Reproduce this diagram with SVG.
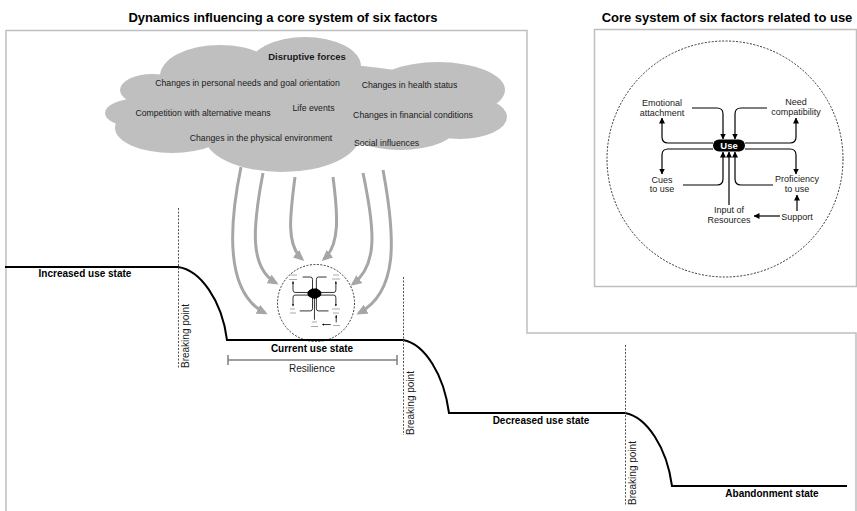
<svg xmlns="http://www.w3.org/2000/svg" xmlns:xlink="http://www.w3.org/1999/xlink" width="857" height="511" viewBox="0 0 857 511">
<style>
text{font-family:"Liberation Sans",Arial,sans-serif;fill:#1a1a1a}
.title{font-size:13px;font-weight:bold;text-anchor:middle;fill:#000}
.cl{font-size:8.7px;text-anchor:middle}
.st{font-size:10px;font-weight:bold;text-anchor:middle;fill:#000}
.bp{font-size:10px}
.lb{font-size:9px;text-anchor:middle}
.frame{fill:none;stroke:#bfbfbf;stroke-width:1.5}
.dash{fill:none;stroke:#333;stroke-width:1;stroke-dasharray:2 1.5}
.bpl{fill:none;stroke:#555;stroke-width:1;stroke-dasharray:2 1.5}
.ga{fill:none;stroke:#a6a6a6;stroke-width:3;marker-end:url(#gah)}
.cn{fill:none;stroke:#000;stroke-width:var(--sw,1.2);marker-end:url(#bah);vector-effect:non-scaling-stroke}
.cloud ellipse{fill:#bfbfbf}
.mini{stroke:#aaa;stroke-width:1}
</style>
<defs>
<marker id="gah" markerUnits="userSpaceOnUse" markerWidth="11" markerHeight="10" refX="8" refY="5" orient="auto" viewBox="0 0 11 10"><path d="M0,0 L11,5 L0,10 z" fill="#a6a6a6"/></marker>
<marker id="bah" markerUnits="userSpaceOnUse" markerWidth="6" markerHeight="6" refX="5.5" refY="3" orient="auto" viewBox="0 0 6 6"><path d="M0,0 L6,3 L0,6 z" fill="#000"/></marker>
<g id="coreLinks">
<path class="cn" d="M692,108 H717 Q723,108 723,114 V139"/>
<path class="cn" d="M713,143 H668 Q662,143 662,137 V118"/>
<path class="cn" d="M767,108 H741 Q735,108 735,114 V139"/>
<path class="cn" d="M745,143 H790 Q796,143 796,137 V118"/>
<path class="cn" d="M713,149 H668 Q662,149 662,155 V174"/>
<path class="cn" d="M683,185 H717 Q723,185 723,179 V152"/>
<path class="cn" d="M745,149 H790 Q796,149 796,155 V174"/>
<path class="cn" d="M773,185 H741 Q735,185 735,179 V152"/>
<path class="cn" d="M729,205 V152"/>
<path class="cn" d="M780,216 H754"/>
<path class="cn" d="M797,211 V195"/>
</g>
</defs>
<rect width="857" height="511" fill="#fff"/>

<g id="frames">
<path class="frame" d="M6,511 V30.5 H527 V333 H856 V511"/>
<rect class="frame" x="594.5" y="29.5" width="262" height="257"/>
</g>

<g id="titles">
<text class="title" x="283" y="22">Dynamics influencing a core system of six factors</text>
<text class="title" x="727" y="22">Core system of six factors related to use</text>
</g>

<g id="cloud" class="cloud">
<ellipse cx="300" cy="105" rx="170" ry="42"/>
<ellipse cx="140" cy="113" rx="35" ry="15"/>
<ellipse cx="152" cy="90" rx="32" ry="16"/>
<ellipse cx="220" cy="76" rx="60" ry="31"/>
<ellipse cx="305" cy="66" rx="56" ry="29"/>
<ellipse cx="438" cy="90" rx="67" ry="28"/>
<ellipse cx="460" cy="117" rx="47" ry="22"/>
<ellipse cx="400" cy="125" rx="58" ry="25"/>
<ellipse cx="282" cy="135" rx="78" ry="37"/>
<ellipse cx="172" cy="128" rx="57" ry="25"/>
<text class="cl" x="307" y="60" style="font-weight:bold;font-size:9.5px">Disruptive forces</text>
<text class="cl" x="247.5" y="86">Changes in personal needs and goal orientation</text>
<text class="cl" x="409.5" y="88">Changes in health status</text>
<text class="cl" x="203" y="116">Competition with alternative means</text>
<text class="cl" x="313.5" y="111">Life events</text>
<text class="cl" x="413" y="118">Changes in financial conditions</text>
<text class="cl" x="261" y="141">Changes in the physical environment</text>
<text class="cl" x="386.5" y="146">Social influences</text>
</g>

<g id="force-arrows">
<path class="ga" d="M241,167 C226,240 230,295 265,313"/>
<path class="ga" d="M263,173 C252,230 250,268 276,283"/>
<path class="ga" d="M295,177 C290,215 286,245 302,259"/>
<path class="ga" d="M333,177 C338,215 340,245 324,259"/>
<path class="ga" d="M363,173 C375,230 378,265 353,284"/>
<path class="ga" d="M383,170 C396,240 398,292 359,313"/>
</g>

<g id="mini-core">
<circle class="dash" cx="316" cy="303" r="38.5"/>
<use xlink:href="#coreLinks" href="#coreLinks" style="--sw:0.8" transform="translate(81.16,229.52) scale(0.32,0.44)"/>
<ellipse cx="314.4" cy="293.5" rx="7" ry="5" fill="#000"/>
<path class="mini" d="M289,275 h8 M289,279.5 h8 M333,275 h6 M332,279 h8 M290,309 h5 M290,313 h6 M332,309 h8 M333,313 h6 M312,322 h5 M311,326.5 h7 M333,325.5 h7"/>
</g>

<g id="core-system">
<circle class="dash" cx="725" cy="159" r="118"/>
<use xlink:href="#coreLinks" href="#coreLinks"/>
<g id="use-node">
<rect x="713" y="139.5" width="32" height="12" rx="6" fill="#000"/>
<text x="729" y="148.8" style="font-size:9.5px;font-weight:bold;text-anchor:middle;fill:#fff">Use</text>
</g>
<g id="emotional"><text class="lb" x="662" y="106">Emotional</text><text class="lb" x="662" y="116">attachment</text></g>
<g id="need"><text class="lb" x="796" y="105">Need</text><text class="lb" x="796" y="115">compatibility</text></g>
<g id="cues"><text class="lb" x="662" y="183">Cues</text><text class="lb" x="662" y="192">to use</text></g>
<g id="proficiency"><text class="lb" x="797" y="182">Proficiency</text><text class="lb" x="797" y="192">to use</text></g>
<g id="input"><text class="lb" x="729" y="213">Input of</text><text class="lb" x="729" y="223">Resources</text></g>
<g id="support"><text class="lb" x="797" y="220">Support</text></g>
</g>

<g id="stairs">
<path d="M5,267 H178 C200,270 222,300 227,340 H403 C425,344 444,375 449,413 H625 C647,417 667,448 672,486 H847" fill="none" stroke="#000" stroke-width="2"/>
<path class="bpl" d="M178.5,208 V368 M403.5,277 V435 M625.5,345 V505"/>
<text class="bp" transform="translate(189,368) rotate(-90)">Breaking point</text>
<text class="bp" transform="translate(414,435) rotate(-90)">Breaking point</text>
<text class="bp" transform="translate(636,505) rotate(-90)">Breaking point</text>
<path d="M228,360 H397 M228,355 V365 M397,355 V365" fill="none" stroke="#7f7f7f" stroke-width="1.5"/>
<text class="bp" x="312" y="372" style="text-anchor:middle">Resilience</text>
</g>

<g id="states">
<text class="st" x="85" y="277">Increased use state</text>
<text class="st" x="312" y="352">Current use state</text>
<text class="st" x="541" y="424">Decreased use state</text>
<text class="st" x="772" y="497">Abandonment state</text>
</g>
</svg>
